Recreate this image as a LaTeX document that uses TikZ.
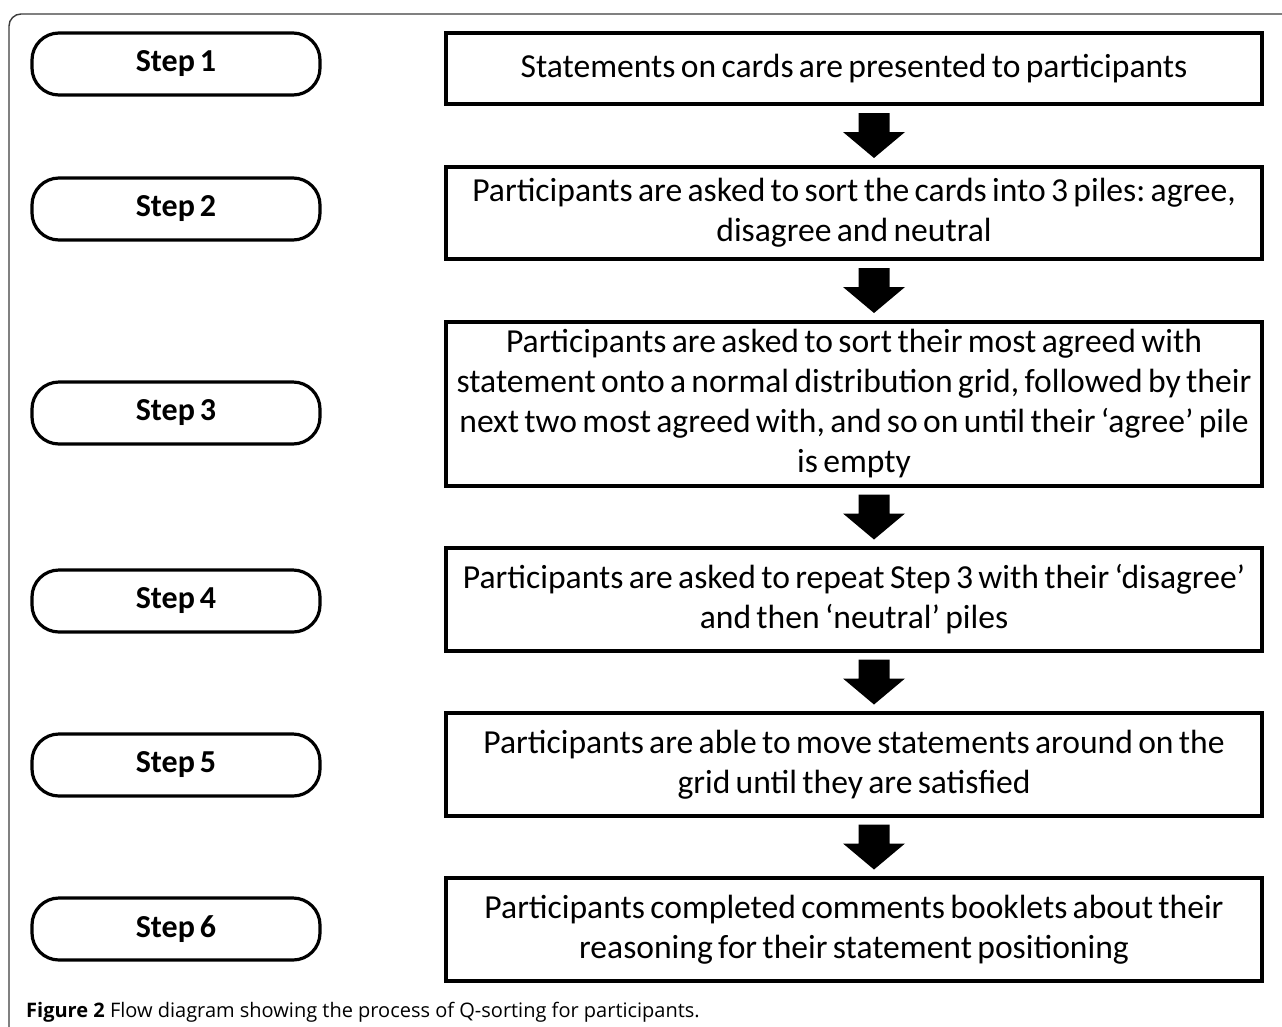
\documentclass[tikz,border=0pt]{standalone}
\usepackage{fontspec}
\setmainfont{Carlito}[WordSpace=0.7]
\newfontfamily\captionfont{Open Sans}
\usetikzlibrary{calc}
\definecolor{framegray}{HTML}{3C3C3C}
\frenchspacing

\tikzset{
  steppill/.style={draw=black, line width=3.2pt, rounded corners=27pt,
    minimum width=288pt, minimum height=62pt, inner sep=0pt,
    font=\fontsize{32}{36}\selectfont\bfseries},
  taskbox/.style={draw=black, line width=3.6pt, minimum width=816pt,
    align=center, inner sep=0pt,
    font=\fontsize{33.6}{40}\selectfont},
  blockarrow/.pic={
    \fill[black] (-15.5,0) -- (15.5,0) -- (15.5,19) -- (31,19) -- (0,45)
      -- (-31,19) -- (-15.5,19) -- cycle;
  }
}

\begin{document}
\begin{tikzpicture}[x=1pt, y=-1pt]
  \useasboundingbox (0,0) rectangle (1282,1026);

  % ---------- outer frame ----------
  \draw[framegray, line width=1.4pt, rounded corners=12pt]
    (9,1030) -- (9,14) -- (1290,14);

  % ---------- step labels ----------
  \foreach \i/\y in {1/64, 2/209, 3/413, 4/601, 5/765, 6/929} {
    \node[steppill] (s\i) at (176,\y) {Step \i};
  }

  % ---------- process boxes ----------
  \node[taskbox, minimum height=71pt] (b1) at (854,68.5)
    {Statements on cards are presented to participants};
  \node[taskbox, minimum height=92pt] (b2) at (854,213)
    {Participants are asked to sort the cards into 3 piles: agree,\\
     disagree and neutral};
  \node[taskbox, minimum height=164pt] (b3) at (854,404)
    {Participants are asked to sort their most agreed with\\
     statement onto a normal distribution grid, followed by their\\
     next two most agreed with, and so on until their ‘agree’ pile\\
     is empty};
  \node[taskbox, minimum height=103pt] (b4) at (854,599.5)
    {Participants are asked to repeat Step 3 with their ‘disagree’\\
     and then ‘neutral’ piles};
  \node[taskbox, minimum height=103pt] (b5) at (854,764.5)
    {Participants are able to move statements around on the\\
     grid until they are satisfied};
  \node[taskbox, minimum height=103pt] (b6) at (854,929.5)
    {Participants completed comments booklets about their\\
     reasoning for their statement positioning};

  % ---------- block arrows between boxes ----------
  \foreach \a/\b in {b1/b2, b2/b3, b3/b4, b4/b5, b5/b6} {
    \pic at ($(\a.south)!0.5!(\b.north)+(20,-22.5)$) {blockarrow};
  }

  % ---------- caption ----------
  \node[anchor=base west, inner sep=0pt, font=\captionfont\fontsize{20}{22}\selectfont]
    (caption) at (26,1017)
    {\textbf{Figure 2} Flow diagram showing the process of Q-sorting for participants.};
\end{tikzpicture}
\end{document}
